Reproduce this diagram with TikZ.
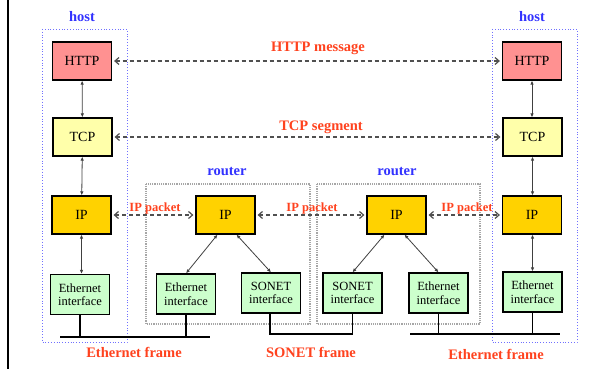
\documentclass[tikz,border=0pt]{standalone}
\usepackage{fontspec}
\setmainfont{Liberation Serif}
\usetikzlibrary{arrows.meta}
\definecolor{lblred}{RGB}{255,66,30}
\definecolor{hostblue}{RGB}{50,50,255}
\definecolor{httpfill}{RGB}{255,145,145}
\definecolor{tcpfill}{RGB}{255,255,170}
\definecolor{ipfill}{RGB}{255,210,0}
\definecolor{ifcfill}{RGB}{204,255,204}
\definecolor{dashgray}{RGB}{80,80,80}
\tikzset{
  box/.style={draw=black, line width=1.2pt, inner sep=0pt, minimum width=59pt, minimum height=38pt, font=\fontsize{14}{15}\selectfont},
  ifc/.style={box, fill=ifcfill, minimum width=59pt, minimum height=40pt, align=center, font=\fontsize{12.5}{13.5}\selectfont},
  lbl/.style={text=lblred, font=\bfseries\fontsize{14.5}{16}\selectfont, inner sep=0pt},
  plbl/.style={text=lblred, font=\bfseries\fontsize{12.5}{14}\selectfont, inner sep=0pt},
  blbl/.style={text=hostblue, font=\bfseries\fontsize{14.5}{16}\selectfont, inner sep=0pt},
  hostbox/.style={draw=hostblue!70, dotted, line width=0.8pt},
  routerbox/.style={draw=gray!70, densely dotted, line width=1.2pt},
  peer/.style={draw=dashgray, dashed, dash pattern=on 4pt off 3pt, line width=1.2pt, {Straight Barb[length=4pt,width=7pt,line width=1.2pt]}-{Straight Barb[length=4pt,width=7pt,line width=1.2pt]}, shorten <=2pt, shorten >=2pt},
  stack/.style={draw=black!75, line width=0.8pt, {Latex[length=4pt,width=3.5pt]}-{Latex[length=4pt,width=3.5pt]}},
  bus/.style={draw=black, line width=1.5pt}
}
\begin{document}
\begin{tikzpicture}[x=1pt,y=-1pt]
\useasboundingbox (0,0) rectangle (592,369);
\fill[white] (0,0) rectangle (592,369);
\draw[line width=2pt] (8,0) -- (8,369);

% host and router frames
\draw[hostbox] (42,29) rectangle (127,342);
\draw[hostbox] (492,29) rectangle (577,342);
\draw[routerbox] (146,184) rectangle (310,324);
\draw[routerbox] (317,184) rectangle (480,324);

\node[blbl] (hostL) at (82,17) {host};
\node[blbl] (hostR) at (532,17) {host};
\node[blbl] (rt1) at (227,172) {router};
\node[blbl] (rt2) at (397,172) {router};

% left host stack
\node[box, fill=httpfill] (httpL) at (82,61) {HTTP};
\node[box, fill=tcpfill] (tcpL) at (82.5,137) {TCP};
\node[box, fill=ipfill] (ipL) at (81.5,215) {IP};
\node[ifc] (ethL) at (80,294.5) {Ethernet\\interface};

% right host stack
\node[box, fill=httpfill] (httpR) at (532,61) {HTTP};
\node[box, fill=tcpfill] (tcpR) at (532.5,137) {TCP};
\node[box, fill=ipfill] (ipR) at (532,215) {IP};
\node[ifc] (ethR) at (532.5,292) {Ethernet\\interface};

% routers
\node[box, fill=ipfill] (ip1) at (225.5,215) {IP};
\node[box, fill=ipfill] (ip2) at (396.5,215) {IP};
\node[ifc] (eth1) at (186,294) {Ethernet\\interface};
\node[ifc] (son1) at (271,293) {SONET\\interface};
\node[ifc] (son2) at (352.5,293) {SONET\\interface};
\node[ifc] (eth2) at (438.5,293) {Ethernet\\interface};

% stack arrows
\draw[stack] (httpL) -- (tcpL);
\draw[stack] (tcpL) -- (ipL);
\draw[stack] (ipL.south) -- (ipL.south |- ethL.north);
\draw[stack] (httpR) -- (httpR |- tcpR.north);
\draw[stack] (tcpR) -- (tcpR |- ipR.north);
\draw[stack] (ipR.south -| ethR) -- (ethR);
\draw[stack] ([xshift=-8pt]ip1.south) -- (eth1.north);
\draw[stack] ([xshift=11pt]ip1.south) -- (son1.north);
\draw[stack] ([xshift=-12pt]ip2.south) -- (son2.north);
\draw[stack] ([xshift=8pt]ip2.south) -- (eth2.north);

% peer dashed arrows
\draw[peer] (httpL) -- (httpR);
\draw[peer] (tcpL) -- (tcpR);
\draw[peer] (ipL) -- (ip1);
\draw[peer] (ip1) -- (ip2);
\draw[peer] (ip2) -- (ipR);

% buses
\coordinate (busL1) at (60,337);
\coordinate (busL2) at (210,337);
\coordinate (busR1) at (410,334);
\coordinate (busR2) at (560,334);
\draw[bus] (busL1) -- (busL2);
\draw[bus] (busR1) -- (busR2);
\draw[bus] (ethL.south) -- (ethL.south |- busL1);
\draw[bus] (eth1.south) -- (eth1.south |- busL1);
\draw[bus] (eth2.south) -- (eth2.south |- busR1);
\draw[bus] (ethR.south) -- (ethR.south |- busR1);
\draw[bus] ([xshift=-1pt]son1.south) -- ([xshift=-1pt]son1.south |- busR1) -| (son2.south);

% labels
\node[lbl] (lhttp) at (318,48) {HTTP message};
\node[lbl] (ltcp) at (321,127) {TCP segment};
\node[plbl] (lip1) at (155,208) {IP packet};
\node[plbl] (lip2) at (312,208) {IP packet};
\node[plbl] (lip3) at (467,208) {IP packet};
\node[lbl] (lef1) at (134,352) {Ethernet frame};
\node[lbl] (lsf) at (311,352) {SONET frame};
\node[lbl] (lef2) at (496,354) {Ethernet frame};
\end{tikzpicture}
\end{document}
